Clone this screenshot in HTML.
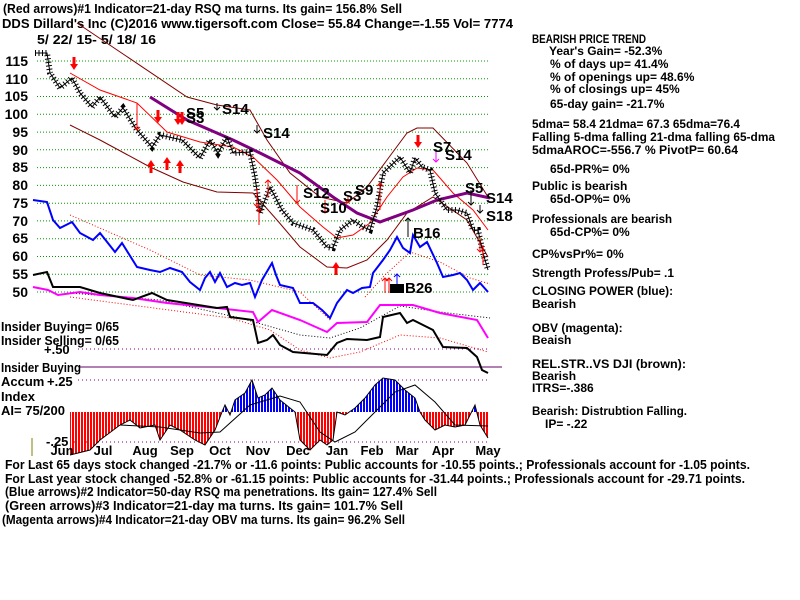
<!DOCTYPE html>
<html><head><meta charset="utf-8"><style>
html,body{margin:0;padding:0;background:#fff;}
svg{display:block;}
text{font-family:"Liberation Sans",sans-serif;font-weight:bold;fill:#000;}
</style></head><body>
<svg width="800" height="600" xmlns="http://www.w3.org/2000/svg" xmlns:xlink="http://www.w3.org/1999/xlink">
<defs>
<clipPath id="above"><rect x="0" y="0" width="800" height="412"/></clipPath>
<clipPath id="below"><rect x="0" y="412" width="800" height="200"/></clipPath>
<pattern id="pb" width="3" height="10" patternUnits="userSpaceOnUse"><rect width="2" height="10" fill="#0000ff"/></pattern>
<pattern id="pr" width="3" height="10" patternUnits="userSpaceOnUse"><rect width="2" height="10" fill="#ff0000"/></pattern>
<g id="rdn"><rect x="-1.5" y="0" width="3" height="8" fill="#f00"/><polygon points="-4,7 4,7 0,13" fill="#f00"/></g>
<g id="rup"><rect x="-1.5" y="5" width="3" height="8" fill="#f00"/><polygon points="-4,6 4,6 0,0" fill="#f00"/></g>
</defs>
<text x="3" y="13" font-size="13" textLength="399" lengthAdjust="spacingAndGlyphs">(Red arrows)#1 Indicator=21-day RSQ ma turns. Its gain= 156.8% Sell</text>
<text x="2" y="28" font-size="13" textLength="511" lengthAdjust="spacingAndGlyphs">DDS   Dillard's Inc  (C)2016 www.tigersoft.com     Close=  55.84  Change=-1.55 Vol= 7774</text>
<text x="37" y="44" font-size="13" textLength="119" lengthAdjust="spacingAndGlyphs">5/ 22/ 15- 5/ 18/ 16</text>
<g stroke="#009900" stroke-width="1" stroke-dasharray="1,2">
<line x1="37" y1="61" x2="490" y2="61"/><line x1="37" y1="78.8" x2="490" y2="78.8"/><line x1="37" y1="96.5" x2="490" y2="96.5"/><line x1="37" y1="114.3" x2="490" y2="114.3"/><line x1="37" y1="132.1" x2="490" y2="132.1"/><line x1="37" y1="149.8" x2="490" y2="149.8"/><line x1="37" y1="167.6" x2="490" y2="167.6"/><line x1="37" y1="185.4" x2="490" y2="185.4"/><line x1="37" y1="203.2" x2="490" y2="203.2"/><line x1="37" y1="220.9" x2="490" y2="220.9"/><line x1="37" y1="238.7" x2="490" y2="238.7"/><line x1="37" y1="256.5" x2="490" y2="256.5"/><line x1="37" y1="274.2" x2="490" y2="274.2"/><line x1="37" y1="292" x2="490" y2="292"/>
</g>
<g font-size="14" text-anchor="end">
<text x="28" y="66">115</text><text x="28" y="84">110</text><text x="28" y="101">105</text><text x="28" y="119">100</text><text x="28" y="137">95</text><text x="28" y="155">90</text><text x="28" y="172">85</text><text x="28" y="190">80</text><text x="28" y="208">75</text><text x="28" y="226">70</text><text x="28" y="243">65</text><text x="28" y="261">60</text><text x="28" y="279">55</text><text x="28" y="297">50</text>
</g>
<g stroke="#800080" stroke-dasharray="1,3" stroke-width="1">
<line x1="78" y1="349" x2="490" y2="349"/><line x1="78" y1="380" x2="490" y2="380"/><line x1="70" y1="442" x2="490" y2="442"/>
</g>
<line x1="80" y1="367" x2="502" y2="367" stroke="#660066" stroke-width="1"/>
<line x1="32" y1="438" x2="32" y2="456" stroke="#808000" stroke-width="1"/>
<polygon clip-path="url(#above)" fill="url(#pb)" points="70,412 70,455 90,450 100,440 120,425 130,420 140,428 155,425 160,440 170,425 180,430 195,440 205,445 215,430 222,412 225,405 230,415 235,400 245,393 252,380 258,398 265,395 272,388 280,400 290,408 295,412 300,440 310,450 320,440 327,445 333,440 337,412 345,415 355,408 365,398 375,385 383,378 395,380 405,390 415,398 420,412 425,420 435,430 445,425 455,427 465,425 475,405 480,425 488,438 488,412"/>
<polygon clip-path="url(#below)" fill="url(#pr)" points="70,412 70,455 90,450 100,440 120,425 130,420 140,428 155,425 160,440 170,425 180,430 195,440 205,445 215,430 222,412 225,405 230,415 235,400 245,393 252,380 258,398 265,395 272,388 280,400 290,408 295,412 300,440 310,450 320,440 327,445 333,440 337,412 345,415 355,408 365,398 375,385 383,378 395,380 405,390 415,398 420,412 425,420 435,430 445,425 455,427 465,425 475,405 480,425 488,438 488,412"/>
<polyline fill="none" stroke="#000" stroke-width="1" points="70,455 90,450 100,440 120,425 130,420 140,428 155,425 160,440 170,425 180,430 195,440 205,445 215,430 222,412 225,405 230,415 235,400 245,393 252,380 258,398 265,395 272,388 280,400 290,408 295,412 300,440 310,450 320,440 327,445 333,440 337,412 345,415 355,408 365,398 375,385 383,378 395,380 405,390 415,398 420,412 425,420 435,430 445,425 455,427 465,425 475,405 480,425 488,438"/>
<polyline fill="none" stroke="#000" stroke-width="1" points="120,425 160,427 200,433 220,432 250,405 280,396 300,402 320,432 335,442 355,432 375,412 395,392 415,385 435,402 455,425 488,426"/>
<polyline fill="none" stroke="#800000" stroke-width="1" points="77,23 187,97 217,105 250,110 267,140 290,173 320,197 347,203 367,187 387,160 407,133 417,128 433,128 467,163 488,197"/>
<polyline fill="none" stroke="#800000" stroke-width="1" points="70,125 100,140 150,167 183,182 217,192 253,193 277,220 300,247 327,267 347,268 367,260 387,240 407,213 433,197 467,220 488,257"/>
<polyline fill="none" stroke="#ff0000" stroke-width="1" points="70,73 100,90 137,103 167,132 200,142 233,147 253,157 277,180 300,207 323,227 337,238 353,235 370,223 387,197 403,177 417,168 433,170 453,193 473,210 488,230"/>
<polyline fill="none" stroke="#800080" stroke-width="3" points="150,97 187,120 233,140 260,153 300,173 333,197 357,213 380,222 413,210 437,200 467,193 490,198"/>
<g fill="none" stroke-width="1" stroke-dasharray="1,2">
<polyline stroke="#f00" points="70,215 150,250 200,275 250,280 300,292 330,320"/>
<polyline stroke="#f00" points="365,297 385,275 410,252 440,262 470,278 490,284"/>
<polyline stroke="#000" points="70,293 160,300 240,318 300,335 330,338 360,328 400,306 440,312 490,318"/>
<polyline stroke="#f00" points="70,297 230,318 270,330 300,350 330,358 360,352 400,335 440,338 488,352"/>
</g>
<polyline fill="none" stroke="#000" stroke-width="6" stroke-dasharray="1,2.5" points="35,53 47,53 50,73 60,88 72,78 80,93 92,107 100,97 115,117 123,108 137,130 152,147 160,135 182,140 200,158 210,140 218,153 227,137 233,153 250,152 255,177 260,213 270,187 282,210 293,223 313,230 327,247 333,248 340,230 353,220 363,227 370,230 377,207 383,173 400,157 410,173 415,158 422,167 430,170 435,193 447,210 457,210 467,213 473,230 478,230 483,253 488,270"/>
<polyline fill="none" stroke="#000" stroke-width="1" points="35,53 47,53 50,73 60,88 72,78 80,93 92,107 100,97 115,117 123,108 137,130 152,147 160,135 182,140 200,158 210,140 218,153 227,137 233,153 250,152 255,177 260,213 270,187 282,210 293,223 313,230 327,247 333,248 340,230 353,220 363,227 370,230 377,207 383,173 400,157 410,173 415,158 422,167 430,170 435,193 447,210 457,210 467,213 473,230 478,230 483,253 488,270"/>
<polyline fill="none" stroke="#ff00ff" stroke-width="2" points="33,287 48,290 58,295 80,292 100,295 133,298 167,303 217,308 253,312 258,322 272,310 300,320 327,332 337,323 367,322 380,305 413,305 440,313 477,320 488,338"/>
<polyline fill="none" stroke="#000" stroke-width="2" points="33,275 47,272 53,287 80,287 100,293 133,300 152,293 167,300 217,308 227,307 230,317 253,320 258,343 267,340 273,335 280,345 293,352 327,355 337,343 347,339 367,340 380,337 383,317 400,313 407,323 413,320 433,330 443,347 467,348 477,357 482,370 488,373"/>
<polyline fill="none" stroke="#0000ff" stroke-width="2" points="33,200 47,202 53,220 60,228 72,222 80,233 93,240 100,233 115,252 122,243 137,267 150,270 160,272 170,268 182,272 190,282 200,290 205,278 210,272 215,282 220,273 227,287 235,283 242,285 250,283 255,297 262,280 272,263 276,275 280,285 293,288 300,303 313,303 322,310 330,318 337,303 347,290 353,293 362,288 370,287 373,273 383,260 390,250 397,237 403,248 410,253 413,235 420,247 427,242 437,263 443,277 453,275 460,273 467,280 473,290 480,283 488,292"/>
<use xlink:href="#rdn" x="74" y="57"/><use xlink:href="#rdn" x="158" y="110"/><use xlink:href="#rdn" x="178" y="112"/><use xlink:href="#rdn" x="182" y="112"/><use xlink:href="#rdn" x="418" y="135"/>
<use xlink:href="#rup" x="151" y="160"/><use xlink:href="#rup" x="167" y="157"/><use xlink:href="#rup" x="180" y="160"/><use xlink:href="#rup" x="336" y="262"/>
<g fill="none" stroke-width="1">
<path stroke="#f00" d="M137 103V130M134 127l3 3 3-3M257 188V207M254 204l3 3 3-3M259 225V208M256 211l3-3 3 3M268 198V180M265 183l3-3 3 3M297 185V203M294 200l3 3 3-3M325 200V213M322 210l3 3 3-3M348 195V203M345 200l3 3 3-3M380 210V183M377 186l3-3 3 3M480 237V252M477 249l3 3 3-3M483 245V265M385 293V278M382 281l3-3 3 3M389 293V278M386 281l3-3 3 3"/>
<path stroke="#000" d="M217 103V110M214 107l3 3 3-3M257 125V133M254 130l3 3 3-3M408 237V218M405 221l3-3 3 3M471 190V205M468 202l3 3 3-3M480 205V213M477 210l3 3 3-3"/>
<path stroke="#00f" d="M397 288V274M394 277l3-3 3 3"/>
<path stroke="#ff00ff" d="M436 150V162M433 159l3 3 3-3"/>
</g>
<g font-size="15">
<text x="186" y="118">S5</text><text x="186" y="123">S3</text>
<text x="222" y="114">S14</text><text x="263" y="138">S14</text>
<text x="303" y="198">S12</text><text x="320" y="213">S10</text>
<text x="343" y="201">S3</text><text x="355" y="195">S9</text>
<text x="433" y="152">S7</text><text x="445" y="160">S14</text>
<text x="465" y="193">S5</text><text x="486" y="203">S14</text>
<text x="486" y="221">S18</text><text x="413" y="238">B16</text>
<text x="405" y="293">B26</text>
</g>
<rect x="390" y="284" width="14" height="9" fill="#000"/>
<text x="1" y="331" font-size="13" textLength="118" lengthAdjust="spacingAndGlyphs">Insider Buying= 0/65</text>
<text x="1" y="345" font-size="13" textLength="118" lengthAdjust="spacingAndGlyphs">Insider Selling= 0/65</text>
<text x="44" y="354" font-size="13">+.50</text>
<text x="1" y="372" font-size="13" textLength="80" lengthAdjust="spacingAndGlyphs">Insider Buying</text>
<text x="1" y="386" font-size="13">Accum</text>
<text x="47" y="386" font-size="13">+.25</text>
<text x="1" y="401" font-size="13">Index</text>
<text x="1" y="415" font-size="13" textLength="64" lengthAdjust="spacingAndGlyphs">AI= 75/200</text>
<text x="46" y="446" font-size="13">-.25</text>
<g font-size="13" text-anchor="middle">
<text x="62" y="455">Jun</text><text x="103" y="455">Jul</text><text x="145" y="455">Aug</text><text x="182" y="455">Sep</text><text x="220" y="455">Oct</text><text x="258" y="455">Nov</text><text x="298" y="455">Dec</text><text x="337" y="455">Jan</text><text x="372" y="455">Feb</text><text x="407" y="455">Mar</text><text x="443" y="455">Apr</text><text x="488" y="455">May</text>
</g>
<g font-size="12">
<text x="532" y="43" textLength="114" lengthAdjust="spacingAndGlyphs">BEARISH PRICE TREND</text>
<text x="549" y="55">Year's Gain= -52.3%</text>
<text x="550" y="68">% of days up= 41.4%</text>
<text x="550" y="81">% of openings up= 48.6%</text>
<text x="550" y="93">% of closings up= 45%</text>
<text x="550" y="108">65-day gain= -21.7%</text>
<text x="532" y="128" textLength="208" lengthAdjust="spacingAndGlyphs">5dma= 58.4 21dma= 67.3 65dma=76.4</text>
<text x="532" y="141" textLength="243" lengthAdjust="spacingAndGlyphs">Falling 5-dma  falling 21-dma  falling 65-dma</text>
<text x="532" y="154" textLength="206" lengthAdjust="spacingAndGlyphs">5dmaAROC=-556.7 %  PivotP= 60.64</text>
<text x="550" y="173">65d-PR%= 0%</text>
<text x="532" y="190">Public is bearish</text>
<text x="550" y="203">65d-OP%= 0%</text>
<text x="532" y="223" textLength="140" lengthAdjust="spacingAndGlyphs">Professionals are bearish</text>
<text x="550" y="236">65d-CP%= 0%</text>
<text x="532" y="258">CP%vsPr%=  0%</text>
<text x="532" y="277" textLength="142" lengthAdjust="spacingAndGlyphs">Strength Profess/Pub= .1</text>
<text x="532" y="295" textLength="141" lengthAdjust="spacingAndGlyphs">CLOSING POWER (blue):</text>
<text x="532" y="308">Bearish</text>
<text x="532" y="332">OBV (magenta):</text>
<text x="532" y="344">Beaish</text>
<text x="532" y="368" textLength="154" lengthAdjust="spacingAndGlyphs">REL.STR..VS DJI (brown):</text>
<text x="532" y="380">Bearish</text>
<text x="532" y="392">ITRS=-.386</text>
<text x="532" y="415" textLength="155" lengthAdjust="spacingAndGlyphs">Bearish: Distrubtion Falling.</text>
<text x="545" y="428">IP= -.22</text>
</g>
<g font-size="13">
<text x="5" y="469" textLength="745" lengthAdjust="spacingAndGlyphs">For Last 65 days stock changed -21.7% or -11.6 points:  Public accounts for -10.55 points.;  Professionals account for -1.05 points.</text>
<text x="5" y="483" textLength="740" lengthAdjust="spacingAndGlyphs">For Last year stock changed -52.8% or -61.15 points:  Public accounts for -31.44 points.;  Professionals account for -29.71 points.</text>
<text x="5" y="496" textLength="432" lengthAdjust="spacingAndGlyphs">(Blue arrows)#2 Indicator=50-day RSQ ma penetrations. Its gain= 127.4% Sell</text>
<text x="5" y="510" textLength="398" lengthAdjust="spacingAndGlyphs">(Green arrows)#3 Indicator=21-day ma turns. Its gain= 101.7% Sell</text>
<text x="2" y="524" textLength="403" lengthAdjust="spacingAndGlyphs">(Magenta arrows)#4 Indicator=21-day OBV ma turns. Its gain= 96.2% Sell</text>
</g>
</svg>
</body></html>
